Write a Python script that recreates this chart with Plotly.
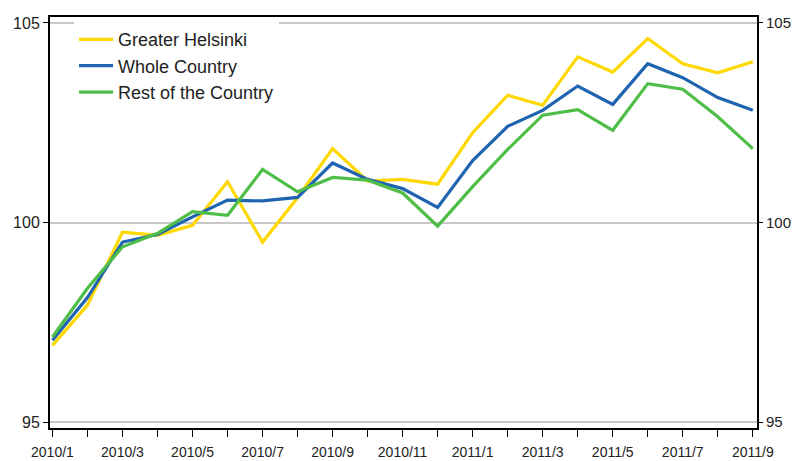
import plotly.graph_objects as go

months = ["2010/1", "2010/2", "2010/3", "2010/4", "2010/5", "2010/6", "2010/7",
          "2010/8", "2010/9", "2010/10", "2010/11", "2010/12", "2011/1", "2011/2",
          "2011/3", "2011/4", "2011/5", "2011/6", "2011/7", "2011/8", "2011/9"]

greater_helsinki = [96.92, 97.93, 99.76, 99.68, 99.93, 101.02, 99.51, 100.62, 101.85, 101.04,
                    101.08, 100.96, 102.25, 103.19, 102.94, 104.15, 103.77, 104.61, 103.98,
                    103.75, 104.03]
whole_country = [97.05, 98.12, 99.51, 99.70, 100.14, 100.56, 100.54, 100.63, 101.49, 101.08,
                 100.85, 100.38, 101.55, 102.41, 102.81, 103.42, 102.96, 103.98, 103.63,
                 103.13, 102.81]
rest_of_country = [97.13, 98.35, 99.39, 99.73, 100.27, 100.18, 101.33, 100.77, 101.13, 101.06,
                   100.74, 99.91, 100.90, 101.83, 102.69, 102.83, 102.31, 103.48, 103.34,
                   102.65, 101.85]

y_ticks = [95, 100, 105]

series = [
    ("Greater Helsinki", greater_helsinki, "#FFD800"),
    ("Whole Country", whole_country, "#1F64B0"),
    ("Rest of the Country", rest_of_country, "#4FBE48"),
]

xs = list(range(len(months)))
fig = go.Figure()
for name, vals, col in series:
    fig.add_trace(go.Scatter(x=xs, y=vals, name=name, mode="lines",
                             line=dict(color=col, width=3.2)))

# invisible trace for right axis
fig.add_trace(go.Scatter(x=xs, y=whole_country, yaxis="y2", mode="lines",
                         line=dict(width=0, color="rgba(0,0,0,0)"), showlegend=False,
                         hoverinfo="skip"))

ticktext = [m if i % 2 == 0 else "" for i, m in enumerate(months)]
yr = [94.85, 105.15]
fam = "Liberation Sans, Arial, sans-serif"
txt = "#222222"

fig.update_layout(
    width=793, height=461,
    margin=dict(l=50, r=36, t=17, b=33),
    paper_bgcolor="white", plot_bgcolor="white",
    font=dict(family=fam, size=14, color=txt),
    showlegend=True,
    legend=dict(x=0.034, y=0.99, xanchor="left", yanchor="top",
                bgcolor="white", borderwidth=0,
                font=dict(family=fam, size=18, color=txt),
                tracegroupgap=0, itemwidth=34),
    xaxis=dict(range=[-0.07, 20.12], tickmode="array", tickvals=xs, ticktext=ticktext,
               ticks="outside", ticklen=7, tickcolor="black", tickwidth=1,
               showline=True, linecolor="black", linewidth=2, mirror=True,
               showgrid=False, zeroline=False, automargin=False, ticklabelstandoff=3,
               tickfont=dict(family=fam, size=14, color=txt)),
    yaxis=dict(range=yr, tickmode="array", tickvals=y_ticks,
               ticks="outside", ticklen=5, tickcolor="black",
               showline=True, linecolor="black", linewidth=2,
               showgrid=True, gridcolor="#C8C8C8", gridwidth=1.5, zeroline=False,
               automargin=False,
               tickfont=dict(family=fam, size=16, color=txt)),
    yaxis2=dict(range=yr, tickmode="array", tickvals=y_ticks, overlaying="y", side="right",
                ticks="outside", ticklen=4, tickcolor="black",
                showline=True, linecolor="black", linewidth=2,
                showgrid=False, zeroline=False, automargin=False,
                tickfont=dict(family=fam, size=15, color=txt)),
)

fig.write_html("out.html", config={"displayModeBar": False},
               post_script="document.body.style.margin='0';document.body.style.overflow='hidden';")
